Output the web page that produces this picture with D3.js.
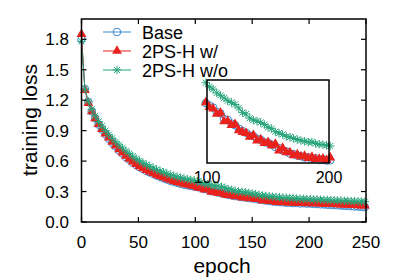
<!DOCTYPE html>
<html>
<head>
<meta charset="utf-8">
<script src="https://cdn.jsdelivr.net/npm/d3@7"></script>
<style>
  body { margin: 0; background: #fff; }
  text { font-family: "Liberation Sans", Arial, sans-serif; fill: #000; }
</style>
</head>
<body>
<main></main>
<script>
const width = 399;
const height = 279;

// epochs (every 3rd epoch recorded)
const epochs = [0, 3, 6, 9, 12, 15, 18, 21, 24, 27, 30, 33, 36, 39, 42, 45, 48, 51, 54, 57,
  60, 63, 66, 69, 72, 75, 78, 81, 84, 87, 90, 93, 96, 99, 102, 105, 108, 111, 114, 117,
  120, 123, 126, 129, 132, 135, 138, 141, 144, 147, 150, 153, 156, 159, 162, 165, 168, 171, 174, 177,
  180, 183, 186, 189, 192, 195, 198, 201, 204, 207, 210, 213, 216, 219, 222, 225, 228, 231, 234, 237,
  240, 243, 246, 249];

const base = [1.80, 1.31, 1.18, 1.09, 1.02, 0.96, 0.91, 0.865, 0.82, 0.78,
  0.745, 0.705, 0.675, 0.64, 0.615, 0.585, 0.562, 0.54, 0.522, 0.503,
  0.488, 0.474, 0.457, 0.446, 0.431, 0.419, 0.406, 0.396, 0.386, 0.377,
  0.369, 0.362, 0.355, 0.350, 0.343, 0.337, 0.324, 0.320, 0.303, 0.301,
  0.290, 0.285, 0.275, 0.268, 0.263, 0.255, 0.253, 0.245, 0.242, 0.235,
  0.233, 0.228, 0.221, 0.218, 0.211, 0.208, 0.202, 0.200, 0.196, 0.194,
  0.190, 0.191, 0.186, 0.188, 0.183, 0.185, 0.181, 0.182, 0.178, 0.177,
  0.174, 0.173, 0.170, 0.169, 0.166, 0.165, 0.162, 0.160, 0.158, 0.156,
  0.153, 0.152, 0.149, 0.147];

const withH = [1.85, 1.30, 1.17, 1.09, 1.02, 0.965, 0.915, 0.87, 0.83, 0.79,
  0.752, 0.715, 0.683, 0.65, 0.622, 0.595, 0.57, 0.548, 0.53, 0.51,
  0.495, 0.48, 0.465, 0.452, 0.44, 0.427, 0.414, 0.403, 0.393, 0.384,
  0.375, 0.367, 0.36, 0.352, 0.338, 0.334, 0.318, 0.322, 0.296, 0.297,
  0.285, 0.288, 0.27, 0.265, 0.262, 0.251, 0.256, 0.24, 0.243, 0.232,
  0.235, 0.225, 0.23, 0.21, 0.218, 0.205, 0.205, 0.196, 0.199, 0.193,
  0.195, 0.188, 0.192, 0.185, 0.186, 0.187, 0.182, 0.19, 0.184, 0.183,
  0.181, 0.179, 0.178, 0.176, 0.175, 0.173, 0.172, 0.17, 0.168, 0.167,
  0.165, 0.163, 0.162, 0.16];

const withoutH = [1.78, 1.31, 1.19, 1.11, 1.045, 0.99, 0.945, 0.90, 0.86, 0.825,
  0.79, 0.76, 0.73, 0.70, 0.675, 0.648, 0.624, 0.603, 0.583, 0.565,
  0.548, 0.532, 0.517, 0.503, 0.49, 0.477, 0.465, 0.455, 0.445, 0.436,
  0.428, 0.421, 0.415, 0.41, 0.398, 0.391, 0.38, 0.373, 0.365, 0.357,
  0.352, 0.346, 0.336, 0.322, 0.318, 0.306, 0.300, 0.297, 0.293, 0.287,
  0.279, 0.275, 0.266, 0.262, 0.258, 0.252, 0.250, 0.246, 0.243, 0.24,
  0.238, 0.235, 0.236, 0.231, 0.229, 0.228, 0.226, 0.224, 0.223, 0.221,
  0.22, 0.218, 0.217, 0.215, 0.214, 0.212, 0.211, 0.209, 0.208, 0.206,
  0.205, 0.204, 0.202, 0.201];

const seriesNames = ["Base", "2PS-H w/", "2PS-H w/o"];
const xTicks = [0, 50, 100, 150, 200, 250];
const yTicks = [0.0, 0.3, 0.6, 0.9, 1.2, 1.5, 1.8];
const insetTicks = [100, 200];

const colors = ["#3b8bd0", "#e8231e", "#26a57a"];
const shapes = ["circle", "triangle", "star"];
const allValues = [base, withH, withoutH];

const series = seriesNames.map((name, i) => ({
  name: name,
  color: colors[i],
  shape: shapes[i],
  values: epochs.map((e, j) => ({x: e, y: allValues[i][j]}))
}));

const svg = d3.select("main").append("svg")
  .attr("width", width)
  .attr("height", height);

const plot = {left: 81.5, right: 366, top: 19, bottom: 222};

const x = d3.scaleLinear().domain([0, 250]).range([plot.left, plot.right]);
const y = d3.scaleLinear().domain([0, 2.0]).range([plot.bottom, plot.top]);

function drawMarker(g, shape, color) {
  if (shape === "circle") {
    g.append("circle").attr("r", 3.8)
      .attr("fill", "none").attr("stroke", color).attr("stroke-width", 1);
  } else if (shape === "triangle") {
    g.append("path").attr("d", d3.symbol(d3.symbolTriangle, 42)())
      .attr("fill", color);
  } else {
    const r = 4.2, q = r * 0.72;
    g.append("path")
      .attr("d", `M${-r},0H${r}M0,${-r}V${r}M${-q},${-q}L${q},${q}M${-q},${q}L${q},${-q}`)
      .attr("stroke", color).attr("stroke-width", 1).attr("fill", "none");
  }
}

function drawSeries(parent, s, xs, ys, data) {
  const line = d3.line().x(d => xs(d.x)).y(d => ys(d.y));
  parent.append("path")
    .datum(data)
    .attr("d", line)
    .attr("fill", "none")
    .attr("stroke", s.color)
    .attr("stroke-width", 1);
  parent.append("g")
    .selectAll("g")
    .data(data)
    .join("g")
    .attr("transform", d => `translate(${xs(d.x)},${ys(d.y)})`)
    .each(function() { drawMarker(d3.select(this), s.shape, s.color); });
}

// main data
const dataG = svg.append("g");
series.forEach(s => drawSeries(dataG, s, x, y, s.values));

// frame and ticks (gnuplot style: inward, mirrored)
const axisG = svg.append("g").attr("stroke", "#000").attr("stroke-width", 1.2);
axisG.append("rect")
  .attr("x", plot.left).attr("y", plot.top)
  .attr("width", plot.right - plot.left).attr("height", plot.bottom - plot.top)
  .attr("fill", "none").attr("stroke-width", 1.5);
const tl = 5;
xTicks.forEach(t => {
  axisG.append("line").attr("x1", x(t)).attr("x2", x(t)).attr("y1", plot.bottom).attr("y2", plot.bottom - tl);
  axisG.append("line").attr("x1", x(t)).attr("x2", x(t)).attr("y1", plot.top).attr("y2", plot.top + tl);
});
yTicks.forEach(t => {
  axisG.append("line").attr("y1", y(t)).attr("y2", y(t)).attr("x1", plot.left).attr("x2", plot.left + tl);
  axisG.append("line").attr("y1", y(t)).attr("y2", y(t)).attr("x1", plot.right).attr("x2", plot.right - tl);
});

svg.append("g").selectAll("text")
  .data(xTicks).join("text")
  .attr("x", d => x(d)).attr("y", 248)
  .attr("text-anchor", "middle")
  .style("font-size", "17px")
  .text(d => d);

svg.append("g").selectAll("text")
  .data(yTicks).join("text")
  .attr("x", 69).attr("y", d => y(d) + 6)
  .attr("text-anchor", "end")
  .style("font-size", "17px")
  .text(d => d.toFixed(1));

svg.append("text")
  .attr("x", 222).attr("y", 273)
  .attr("text-anchor", "middle")
  .style("font-size", "21px")
  .text("epoch");

svg.append("text")
  .attr("transform", "translate(37,120) rotate(-90)")
  .attr("text-anchor", "middle")
  .style("font-size", "21px")
  .text("training loss");

// legend
const legend = svg.append("g");
series.forEach((s, i) => {
  const ly = 32 + i * 19;
  const g = legend.append("g");
  g.append("line").attr("x1", 103).attr("x2", 131).attr("y1", ly).attr("y2", ly)
    .attr("stroke", s.color).attr("stroke-width", 1);
  drawMarker(g.append("g").attr("transform", `translate(117,${ly})`), s.shape, s.color);
  g.append("text").attr("x", 142).attr("y", ly + 6.5)
    .style("font-size", "18px")
    .text(s.name);
});

// inset
const inset = {left: 207, right: 329, top: 80, bottom: 163};
const ix = d3.scaleLinear().domain([100, 200]).range([inset.left, inset.right]);
const iy = d3.scaleLinear().domain([0.174, 0.418]).range([inset.bottom, inset.top]);

svg.append("rect")
  .attr("x", inset.left).attr("y", inset.top)
  .attr("width", inset.right - inset.left).attr("height", inset.bottom - inset.top)
  .attr("fill", "#fff");

const insetG = svg.append("g");
series.forEach(s => drawSeries(insetG, s, ix, iy, s.values.filter(d => d.x >= 99 && d.x <= 201)));

svg.append("rect")
  .attr("x", inset.left).attr("y", inset.top)
  .attr("width", inset.right - inset.left).attr("height", inset.bottom - inset.top)
  .attr("fill", "none").attr("stroke", "#000").attr("stroke-width", 1.5);

svg.append("g").selectAll("text")
  .data(insetTicks).join("text")
  .attr("x", d => ix(d)).attr("y", 183)
  .attr("text-anchor", "middle")
  .style("font-size", "16px")
  .text(d => d);
</script>
</body>
</html>
